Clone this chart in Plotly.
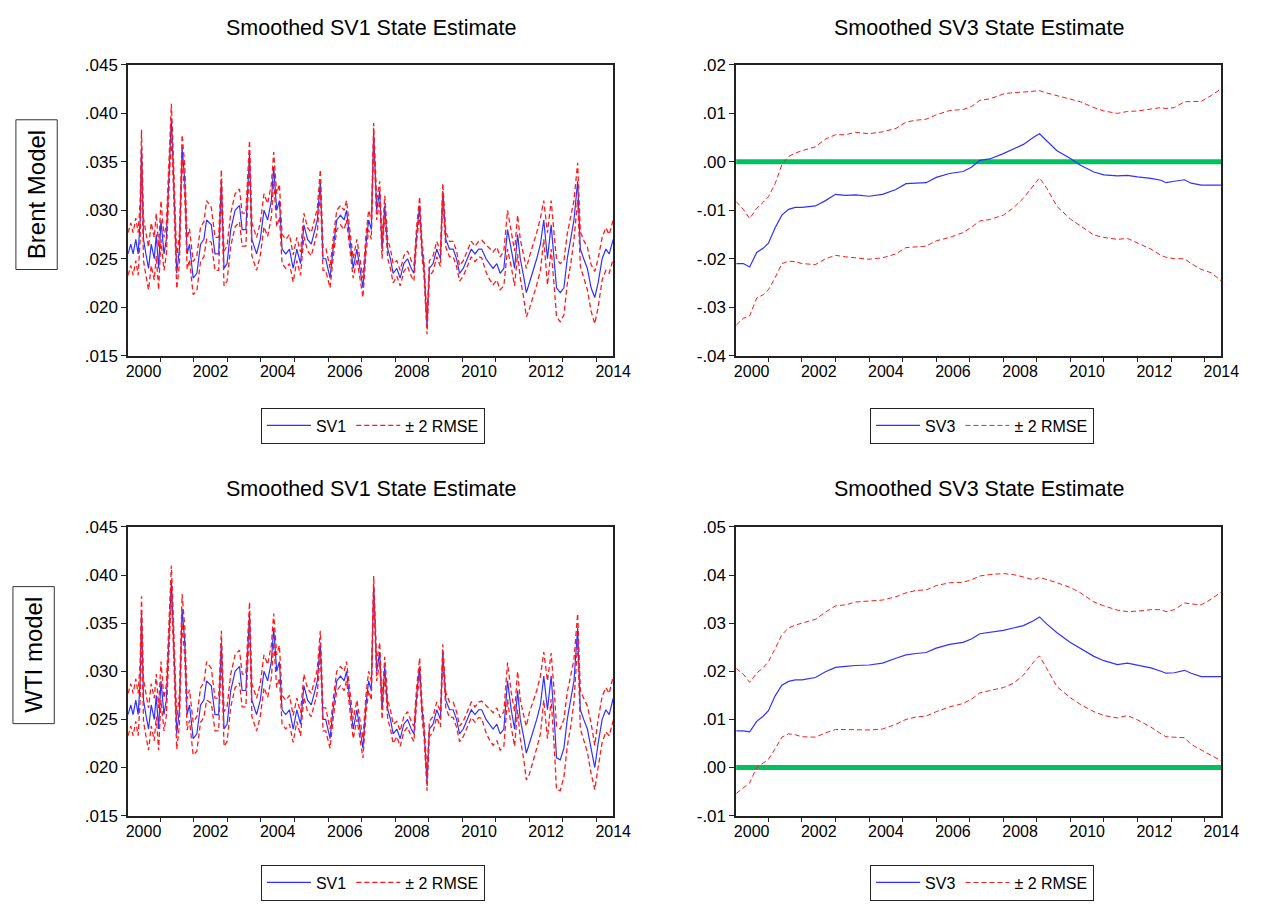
import plotly.graph_objects as go

# ---------------- data ----------------
sv1_years = [
    2000.04, 2000.12, 2000.19, 2000.27, 2000.34, 2000.40, 2000.44, 2000.50, 2000.57, 2000.65,
    2000.73, 2000.82, 2000.88, 2000.95, 2001.02, 2001.11, 2001.18, 2001.26, 2001.33, 2001.38,
    2001.43, 2001.49, 2001.57, 2001.65, 2001.73, 2001.80, 2001.87, 2001.98, 2002.09, 2002.20,
    2002.30, 2002.38, 2002.52, 2002.63, 2002.74, 2002.82, 2002.90, 2002.99, 2003.10, 2003.23,
    2003.36, 2003.44, 2003.55, 2003.66, 2003.73, 2003.87, 2003.98, 2004.09, 2004.20, 2004.31,
    2004.38, 2004.47, 2004.55, 2004.63, 2004.74, 2004.85, 2004.96, 2005.07, 2005.18, 2005.28,
    2005.39, 2005.50, 2005.61, 2005.68, 2005.77, 2005.85, 2005.93, 2006.06, 2006.15, 2006.26,
    2006.37, 2006.48, 2006.55, 2006.64, 2006.75, 2006.86, 2006.96, 2007.04, 2007.13, 2007.21,
    2007.29, 2007.36, 2007.45, 2007.54, 2007.61, 2007.69, 2007.78, 2007.86, 2007.94, 2008.05,
    2008.15, 2008.26, 2008.37, 2008.48, 2008.56, 2008.64, 2008.73, 2008.80, 2008.86, 2008.95,
    2009.02, 2009.13, 2009.24, 2009.35, 2009.42, 2009.51, 2009.62, 2009.73, 2009.83, 2009.92,
    2010.03, 2010.16, 2010.27, 2010.38, 2010.49, 2010.58, 2010.71, 2010.81, 2010.92, 2011.03,
    2011.13, 2011.24, 2011.35, 2011.46, 2011.56, 2011.65, 2011.73, 2011.84, 2011.91, 2012.00,
    2012.09, 2012.22, 2012.33, 2012.43, 2012.54, 2012.65, 2012.76, 2012.81, 2012.92, 2013.03,
    2013.13, 2013.24, 2013.33, 2013.44, 2013.52, 2013.62, 2013.73, 2013.84, 2013.95, 2014.05,
    2014.17, 2014.28, 2014.38, 2014.50]

sv1_brent = [
    0.0255, 0.0265, 0.0255, 0.0270, 0.0255, 0.0290, 0.0365, 0.0270, 0.0255, 0.0240,
    0.0265, 0.0250, 0.0275, 0.0240, 0.0290, 0.0255, 0.0270, 0.0330, 0.0395, 0.0350,
    0.0300, 0.0235, 0.0260, 0.0365, 0.0330, 0.0255, 0.0265, 0.0230, 0.0235, 0.0265,
    0.0270, 0.0290, 0.0285, 0.0255, 0.0255, 0.0330, 0.0240, 0.0245, 0.0280, 0.0300,
    0.0305, 0.0280, 0.0280, 0.0360, 0.0270, 0.0255, 0.0270, 0.0300, 0.0290, 0.0310,
    0.0345, 0.0300, 0.0310, 0.0260, 0.0255, 0.0260, 0.0240, 0.0260, 0.0245, 0.0285,
    0.0270, 0.0265, 0.0280, 0.0290, 0.0330, 0.0250, 0.0250, 0.0230, 0.0260, 0.0290,
    0.0295, 0.0290, 0.0300, 0.0270, 0.0240, 0.0260, 0.0240, 0.0220, 0.0265, 0.0290,
    0.0280, 0.0380, 0.0300, 0.0320, 0.0260, 0.0305, 0.0260, 0.0250, 0.0235, 0.0240,
    0.0230, 0.0245, 0.0250, 0.0240, 0.0235, 0.0275, 0.0305, 0.0260, 0.0240, 0.0180,
    0.0240, 0.0245, 0.0260, 0.0250, 0.0320, 0.0270, 0.0260, 0.0260, 0.0250, 0.0235,
    0.0240, 0.0250, 0.0260, 0.0255, 0.0260, 0.0260, 0.0250, 0.0245, 0.0240, 0.0245,
    0.0235, 0.0240, 0.0280, 0.0260, 0.0240, 0.0275, 0.0250, 0.0230, 0.0215, 0.0225,
    0.0235, 0.0250, 0.0265, 0.0290, 0.0250, 0.0285, 0.0240, 0.0220, 0.0215, 0.0220,
    0.0250, 0.0270, 0.0290, 0.0330, 0.0260, 0.0250, 0.0240, 0.0220, 0.0210, 0.0225,
    0.0250, 0.0260, 0.0255, 0.0270]

# 2 x RMSE (half width of the band) for Brent SV1
sv1_brent_2rmse = [
    0.0022, 0.0022, 0.0022, 0.0022, 0.0022, 0.0020, 0.0018, 0.0022, 0.0022, 0.0022,
    0.0022, 0.0022, 0.0022, 0.0022, 0.0020, 0.0017, 0.0016, 0.0016, 0.0015, 0.0016,
    0.0016, 0.0016, 0.0016, 0.0013, 0.0016, 0.0016, 0.0016, 0.0017, 0.0018, 0.0018,
    0.0018, 0.0020, 0.0018, 0.0017, 0.0017, 0.0012, 0.0018, 0.0018, 0.0017, 0.0017,
    0.0017, 0.0017, 0.0017, 0.0012, 0.0017, 0.0017, 0.0017, 0.0017, 0.0017, 0.0017,
    0.0015, 0.0017, 0.0017, 0.0015, 0.0015, 0.0015, 0.0014, 0.0012, 0.0012, 0.0012,
    0.0012, 0.0012, 0.0012, 0.0012, 0.0012, 0.0012, 0.0012, 0.0010, 0.0010, 0.0010,
    0.0010, 0.0010, 0.0010, 0.0010, 0.0010, 0.0010, 0.0010, 0.0010, 0.0010, 0.0010,
    0.0010, 0.0010, 0.0010, 0.0010, 0.0010, 0.0010, 0.0010, 0.0010, 0.0010, 0.0008,
    0.0008, 0.0008, 0.0008, 0.0008, 0.0008, 0.0008, 0.0009, 0.0008, 0.0008, 0.0008,
    0.0008, 0.0008, 0.0008, 0.0008, 0.0008, 0.0008, 0.0008, 0.0008, 0.0008, 0.0008,
    0.0008, 0.0008, 0.0008, 0.0008, 0.0008, 0.0009, 0.0014, 0.0016, 0.0017, 0.0017,
    0.0017, 0.0018, 0.0020, 0.0018, 0.0018, 0.0020, 0.0020, 0.0022, 0.0025, 0.0027,
    0.0027, 0.0027, 0.0027, 0.0020, 0.0027, 0.0025, 0.0027, 0.0030, 0.0030, 0.0028,
    0.0026, 0.0024, 0.0020, 0.0019, 0.0018, 0.0019, 0.0022, 0.0024, 0.0027, 0.0025,
    0.0022, 0.0022, 0.0020, 0.0020]

sv1_wti = [
    0.0255, 0.0265, 0.0255, 0.0270, 0.0255, 0.0290, 0.0360, 0.0270, 0.0255, 0.0240,
    0.0265, 0.0250, 0.0275, 0.0240, 0.0290, 0.0255, 0.0270, 0.0330, 0.0395, 0.0350,
    0.0300, 0.0235, 0.0260, 0.0365, 0.0330, 0.0255, 0.0265, 0.0230, 0.0235, 0.0265,
    0.0270, 0.0290, 0.0285, 0.0255, 0.0255, 0.0330, 0.0240, 0.0245, 0.0280, 0.0300,
    0.0305, 0.0280, 0.0280, 0.0360, 0.0270, 0.0255, 0.0270, 0.0300, 0.0290, 0.0310,
    0.0345, 0.0300, 0.0310, 0.0260, 0.0255, 0.0260, 0.0240, 0.0260, 0.0245, 0.0285,
    0.0270, 0.0265, 0.0280, 0.0290, 0.0330, 0.0250, 0.0250, 0.0230, 0.0260, 0.0290,
    0.0295, 0.0290, 0.0300, 0.0270, 0.0240, 0.0260, 0.0240, 0.0220, 0.0265, 0.0290,
    0.0280, 0.0390, 0.0300, 0.0320, 0.0260, 0.0305, 0.0260, 0.0250, 0.0235, 0.0240,
    0.0230, 0.0245, 0.0250, 0.0240, 0.0235, 0.0275, 0.0305, 0.0260, 0.0240, 0.0185,
    0.0240, 0.0245, 0.0260, 0.0250, 0.0320, 0.0270, 0.0260, 0.0260, 0.0250, 0.0235,
    0.0240, 0.0250, 0.0260, 0.0255, 0.0260, 0.0260, 0.0250, 0.0245, 0.0240, 0.0245,
    0.0235, 0.0240, 0.0290, 0.0260, 0.0240, 0.0280, 0.0250, 0.0230, 0.0215, 0.0225,
    0.0235, 0.0250, 0.0265, 0.0295, 0.0260, 0.0295, 0.0240, 0.0210, 0.0208, 0.0220,
    0.0250, 0.0270, 0.0290, 0.0345, 0.0260, 0.0250, 0.0240, 0.0220, 0.0200, 0.0225,
    0.0250, 0.0260, 0.0255, 0.0272]

sv1_wti_2rmse = [
    0.0022, 0.0022, 0.0022, 0.0022, 0.0022, 0.0020, 0.0018, 0.0022, 0.0022, 0.0022,
    0.0022, 0.0022, 0.0022, 0.0022, 0.0020, 0.0017, 0.0016, 0.0016, 0.0015, 0.0016,
    0.0016, 0.0016, 0.0016, 0.0015, 0.0016, 0.0016, 0.0016, 0.0017, 0.0018, 0.0018,
    0.0018, 0.0020, 0.0018, 0.0017, 0.0017, 0.0012, 0.0018, 0.0018, 0.0017, 0.0017,
    0.0017, 0.0017, 0.0017, 0.0012, 0.0017, 0.0017, 0.0017, 0.0017, 0.0017, 0.0017,
    0.0015, 0.0017, 0.0017, 0.0015, 0.0015, 0.0015, 0.0014, 0.0012, 0.0012, 0.0012,
    0.0012, 0.0012, 0.0012, 0.0012, 0.0012, 0.0012, 0.0012, 0.0010, 0.0010, 0.0010,
    0.0010, 0.0010, 0.0010, 0.0010, 0.0010, 0.0010, 0.0010, 0.0010, 0.0010, 0.0010,
    0.0010, 0.0009, 0.0010, 0.0010, 0.0010, 0.0010, 0.0010, 0.0010, 0.0010, 0.0008,
    0.0008, 0.0008, 0.0008, 0.0008, 0.0008, 0.0008, 0.0009, 0.0008, 0.0008, 0.0009,
    0.0008, 0.0008, 0.0008, 0.0008, 0.0008, 0.0008, 0.0008, 0.0008, 0.0008, 0.0008,
    0.0008, 0.0008, 0.0008, 0.0008, 0.0008, 0.0009, 0.0014, 0.0016, 0.0017, 0.0017,
    0.0017, 0.0018, 0.0019, 0.0018, 0.0018, 0.0020, 0.0020, 0.0023, 0.0028, 0.0032,
    0.0032, 0.0030, 0.0030, 0.0025, 0.0030, 0.0024, 0.0030, 0.0033, 0.0032, 0.0030,
    0.0028, 0.0026, 0.0022, 0.0015, 0.0020, 0.0022, 0.0024, 0.0026, 0.0023, 0.0025,
    0.0024, 0.0023, 0.0022, 0.0023]

sv3_years = [
    2000.04, 2000.25, 2000.44, 2000.65, 2000.85, 2001.00, 2001.20, 2001.40, 2001.60, 2001.80,
    2002.00, 2002.40, 2002.70, 2003.00, 2003.30, 2003.60, 2004.00, 2004.40, 2004.80, 2005.10,
    2005.40, 2005.70, 2006.00, 2006.40, 2006.80, 2007.05, 2007.30, 2007.60, 2008.00, 2008.30,
    2008.60, 2008.90, 2009.08, 2009.30, 2009.60, 2010.00, 2010.30, 2010.70, 2011.00, 2011.40,
    2011.70, 2012.00, 2012.40, 2012.70, 2012.85, 2013.10, 2013.40, 2013.60, 2013.90, 2014.20,
    2014.50]

sv3_brent = [
    -0.0210, -0.0210, -0.0217, -0.0187, -0.0178, -0.0168, -0.0136, -0.0110, -0.0098, -0.0094,
    -0.0094, -0.0091, -0.0080, -0.0067, -0.0069, -0.0068, -0.0071, -0.0067, -0.0057, -0.0045,
    -0.0044, -0.0043, -0.0032, -0.0024, -0.0020, -0.0011, 0.0003, 0.0006, 0.0017, 0.0027,
    0.0036, 0.0051, 0.0058, 0.0043, 0.0023, 0.0007, -0.0007, -0.0021, -0.0027, -0.0029,
    -0.0028, -0.0031, -0.0034, -0.0038, -0.0043, -0.0040, -0.0037, -0.0044, -0.0048, -0.0048,
    -0.0048]
sv3_brent_upper = [
    -0.0082, -0.0098, -0.0117, -0.0096, -0.0083, -0.0072, -0.0045, -0.0006, 0.0011, 0.0018,
    0.0023, 0.0031, 0.0047, 0.0056, 0.0056, 0.0061, 0.0058, 0.0062, 0.0069, 0.0082,
    0.0086, 0.0088, 0.0097, 0.0106, 0.0108, 0.0114, 0.0127, 0.0130, 0.0140, 0.0143,
    0.0144, 0.0145, 0.0147, 0.0142, 0.0137, 0.0130, 0.0124, 0.0112, 0.0105, 0.0100,
    0.0104, 0.0105, 0.0109, 0.0112, 0.0110, 0.0112, 0.0124, 0.0124, 0.0125, 0.0137,
    0.0151]
sv3_brent_lower = [
    -0.0337, -0.0323, -0.0318, -0.0281, -0.0274, -0.0264, -0.0239, -0.0210, -0.0205, -0.0206,
    -0.0210, -0.0212, -0.0200, -0.0193, -0.0196, -0.0198, -0.0201, -0.0198, -0.0190, -0.0177,
    -0.0175, -0.0174, -0.0163, -0.0156, -0.0146, -0.0135, -0.0122, -0.0119, -0.0110, -0.0095,
    -0.0075, -0.0050, -0.0033, -0.0055, -0.0092, -0.0118, -0.0132, -0.0151, -0.0156, -0.0160,
    -0.0158, -0.0167, -0.0180, -0.0193, -0.0197, -0.0200, -0.0200, -0.0210, -0.0222, -0.0229,
    -0.0246]

sv3_wti = [
    0.0076, 0.0076, 0.0074, 0.0096, 0.0107, 0.0118, 0.0149, 0.0171, 0.0179, 0.0182,
    0.0182, 0.0187, 0.0199, 0.0208, 0.0210, 0.0212, 0.0213, 0.0217, 0.0227, 0.0234,
    0.0237, 0.0239, 0.0248, 0.0256, 0.0260, 0.0267, 0.0278, 0.0281, 0.0285, 0.0290,
    0.0295, 0.0305, 0.0313, 0.0298, 0.0280, 0.0260, 0.0248, 0.0231, 0.0222, 0.0214,
    0.0217, 0.0213, 0.0207, 0.0200, 0.0196, 0.0197, 0.0202, 0.0196, 0.0189, 0.0189,
    0.0189]
sv3_wti_upper = [
    0.0206, 0.0194, 0.0177, 0.0196, 0.0208, 0.0220, 0.0247, 0.0276, 0.0290, 0.0296,
    0.0300, 0.0308, 0.0323, 0.0336, 0.0338, 0.0344, 0.0346, 0.0348, 0.0355, 0.0363,
    0.0368, 0.0369, 0.0378, 0.0384, 0.0385, 0.0390, 0.0398, 0.0401, 0.0403, 0.0401,
    0.0396, 0.0390, 0.0395, 0.0391, 0.0384, 0.0374, 0.0363, 0.0344, 0.0336, 0.0327,
    0.0324, 0.0325, 0.0328, 0.0328, 0.0324, 0.0328, 0.0342, 0.0340, 0.0338, 0.0350,
    0.0365]
sv3_wti_lower = [
    -0.0054, -0.0042, -0.0032, 0.0000, 0.0009, 0.0017, 0.0039, 0.0063, 0.0070, 0.0068,
    0.0064, 0.0063, 0.0072, 0.0079, 0.0079, 0.0079, 0.0078, 0.0080, 0.0090, 0.0100,
    0.0105, 0.0107, 0.0116, 0.0126, 0.0133, 0.0142, 0.0155, 0.0160, 0.0166, 0.0175,
    0.0192, 0.0219, 0.0232, 0.0205, 0.0168, 0.0145, 0.0131, 0.0116, 0.0108, 0.0103,
    0.0108, 0.0099, 0.0084, 0.0070, 0.0064, 0.0063, 0.0062, 0.0048, 0.0036, 0.0025,
    0.0014]

year_labels = [2000, 2002, 2004, 2006, 2008, 2010, 2012, 2014]
year_ticks = [2001, 2002, 2003, 2004, 2005, 2006, 2007, 2008, 2009, 2010, 2011, 2012, 2013, 2014]
y_ticks_sv1 = [0.015, 0.020, 0.025, 0.030, 0.035, 0.040, 0.045]
y_ticks_sv3_brent = [-0.04, -0.03, -0.02, -0.01, 0.00, 0.01, 0.02]
y_ticks_sv3_wti = [-0.01, 0.00, 0.01, 0.02, 0.03, 0.04, 0.05]

titles = ["Smoothed SV1 State Estimate", "Smoothed SV3 State Estimate"]
row_labels = ["Brent Model", "WTI model"]

# ---------------- layout helpers ----------------
# The page keeps the browser's 8px body margin, so the figure is 16px smaller
# than the 1270x909 window and every reference pixel position is offset by 8.
PAGE_W, PAGE_H, BODY_M = 1270, 909, 8
W, H = PAGE_W - 2 * BODY_M, PAGE_H - 2 * BODY_M
FONT = "Liberation Sans, Arial, Helvetica, sans-serif"
BLUE = "#3030ff"
RED = "#ff1a1a"
GREEN = "#00c060"


def fx(p):
    return (p - BODY_M) / W


def fy(p):
    return 1 - (p - BODY_M) / H


def ev(v, nd):
    s = f"{v:.{nd}f}"
    return s.replace("0.", ".", 1)


fig = go.Figure()

LX, RX = (128, 621), (746, 1239)
panels = [
    dict(n="", xpx=LX, ypx=(57, 354), leg="legend", legx=263, legy=407,
         yrs=sv1_years, sv=sv1_brent, up=[a + b for a, b in zip(sv1_brent, sv1_brent_2rmse)],
         lo=[a - b for a, b in zip(sv1_brent, sv1_brent_2rmse)], name="SV1", rw=1.3,
         yt=y_ticks_sv1, nd=3, yr=(0.015, 0.045), zero=False, title=titles[0], ty=19),
    dict(n="2", xpx=RX, ypx=(57, 354), leg="legend2", legx=882, legy=407,
         yrs=sv3_years, sv=sv3_brent, up=sv3_brent_upper, lo=sv3_brent_lower, name="SV3", rw=1.0,
         yt=y_ticks_sv3_brent, nd=2, yr=(-0.04, 0.02), zero=True, title=titles[1], ty=19),
    dict(n="3", xpx=LX, ypx=(529, 824), leg="legend3", legx=263, legy=874,
         yrs=sv1_years, sv=sv1_wti, up=[a + b for a, b in zip(sv1_wti, sv1_wti_2rmse)],
         lo=[a - b for a, b in zip(sv1_wti, sv1_wti_2rmse)], name="SV1", rw=1.3,
         yt=y_ticks_sv1, nd=3, yr=(0.015, 0.045), zero=False, title=titles[0], ty=490),
    dict(n="4", xpx=RX, ypx=(529, 824), leg="legend4", legx=882, legy=874,
         yrs=sv3_years, sv=sv3_wti, up=sv3_wti_upper, lo=sv3_wti_lower, name="SV3", rw=1.0,
         yt=y_ticks_sv3_wti, nd=2, yr=(-0.01, 0.05), zero=True, title=titles[1], ty=490),
]

annotations = []
shapes = []
layout = {}

for p in panels:
    xa = "x" + p["n"]
    ya = "y" + p["n"]
    fig.add_trace(go.Scatter(x=p["yrs"], y=p["sv"], mode="lines", name=p["name"],
                             line=dict(color=BLUE, width=1.2), legend=p["leg"],
                             xaxis=xa, yaxis=ya, hoverinfo="skip"))
    fig.add_trace(go.Scatter(x=p["yrs"], y=p["up"], mode="lines", name="± 2 RMSE",
                             line=dict(color=RED, width=p["rw"], dash="5px,3px"), legend=p["leg"],
                             xaxis=xa, yaxis=ya, hoverinfo="skip"))
    fig.add_trace(go.Scatter(x=p["yrs"], y=p["lo"], mode="lines", name="± 2 RMSE",
                             line=dict(color=RED, width=p["rw"], dash="5px,3px"), legend=p["leg"],
                             showlegend=False, xaxis=xa, yaxis=ya, hoverinfo="skip"))

    layout["xaxis" + p["n"]] = dict(
        domain=[fx(p["xpx"][0]), fx(p["xpx"][1])], anchor=ya,
        range=[2000.04, 2014.5], showgrid=False, zeroline=False,
        showline=True, mirror=True, linecolor="#222222", linewidth=1.6,
        tickmode="array", tickvals=[y + 0.5 for y in year_labels],
        ticktext=[str(y) for y in year_labels], ticks="",
        minor=dict(tickmode="array", tickvals=year_ticks, ticks="outside",
                   ticklen=5, tickwidth=1, tickcolor="#222222", showgrid=False),
        tickfont=dict(family=FONT, size=16, color="black"),
    )
    layout["yaxis" + p["n"]] = dict(
        domain=[fy(p["ypx"][1]), fy(p["ypx"][0])], anchor=xa,
        range=list(p["yr"]), showgrid=False, zeroline=False,
        showline=True, mirror=True, linecolor="#222222", linewidth=1.6,
        tickmode="array", tickvals=p["yt"], ticktext=[ev(v, p["nd"]) for v in p["yt"]],
        ticks="outside", ticklen=5, tickwidth=1, tickcolor="#222222",
        tickfont=dict(family=FONT, size=17, color="black"),
    )
    layout[p["leg"]] = dict(
        x=fx(p["legx"]), y=fy(p["legy"]), xanchor="left", yanchor="top",
        orientation="h", bgcolor="white", bordercolor="#222222", borderwidth=1,
        font=dict(family=FONT, size=16, color="black"), itemwidth=44,
    )
    annotations.append(dict(
        text=p["title"], x=(fx(p["xpx"][0]) + fx(p["xpx"][1])) / 2, y=fy(p["ty"]),
        xref="paper", yref="paper", showarrow=False, xanchor="center", yanchor="middle",
        font=dict(family=FONT, size=21.5, color="black"),
    ))
    if p["zero"]:
        shapes.append(dict(type="line", xref=xa + " domain", yref=ya, x0=0, x1=1, y0=0, y1=0,
                           line=dict(color=GREEN, width=5), layer="below"))

side = [(row_labels[0], (14, 56), (113, 266)), (row_labels[1], (11, 53), (590, 730))]
for txt, (x0, x1), (y0, y1) in side:
    shapes.append(dict(type="rect", xref="paper", yref="paper",
                       x0=fx(x0), x1=fx(x1), y0=fy(y1), y1=fy(y0),
                       line=dict(color="#333333", width=1), fillcolor="rgba(0,0,0,0)"))
    annotations.append(dict(text=txt, x=fx((x0 + x1) / 2), y=fy((y0 + y1) / 2),
                            xref="paper", yref="paper", showarrow=False, textangle=-90,
                            xanchor="center", yanchor="middle",
                            font=dict(family=FONT, size=24, color="black")))

fig.update_layout(
    width=W, height=H, margin=dict(l=0, r=0, t=0, b=0),
    paper_bgcolor="white", plot_bgcolor="white",
    annotations=annotations, shapes=shapes, **layout,
)

fig.write_html("out.html", config={"displayModeBar": False})
